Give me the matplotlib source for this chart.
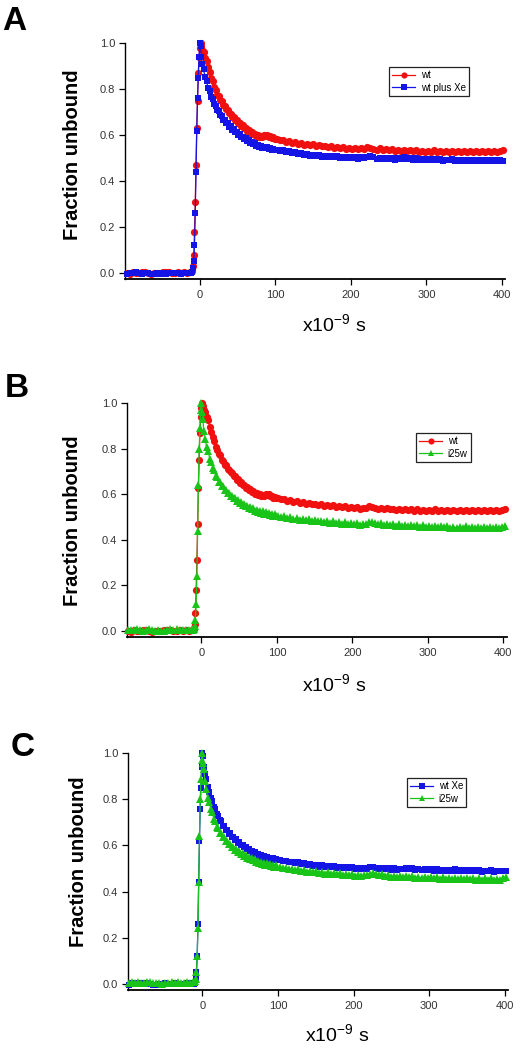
import numpy as np
import matplotlib
matplotlib.use("Agg")
import matplotlib.pyplot as plt

plt.rcParams["font.family"] = ["Liberation Sans", "DejaVu Sans"]

# sampling times (x10^-9 s): baseline, rise, early decay, late decay
T = np.concatenate([
    np.arange(-97, -12, 4),
    np.arange(-11, 4, 1),
    np.arange(5, 100, 2),
    np.arange(102, 403, 4),
])

WT = (
    [0.002, -0.003, 0.004, 0.001, -0.002, 0.003, 0.005, 0.001, -0.004, -0.002, 0.002,
     0.000, 0.004, 0.006, 0.003, -0.001, 0.002, 0.004, 0.001, 0.005, 0.002, 0.003]
    + [0.003, 0.01, 0.03, 0.08, 0.18, 0.31, 0.47, 0.63, 0.75, 0.87, 0.94, 0.98, 1.00, 0.99, 0.97]
    + [0.962, 0.938, 0.925, 0.897, 0.874, 0.851, 0.836, 0.808, 0.797, 0.776,
       0.772, 0.752, 0.748, 0.731, 0.728, 0.712, 0.709, 0.697, 0.694, 0.681,
       0.679, 0.664, 0.667, 0.651, 0.654, 0.641, 0.643, 0.630, 0.631, 0.619,
       0.622, 0.609, 0.614, 0.603, 0.607, 0.598, 0.601, 0.593, 0.598, 0.594,
       0.602, 0.596, 0.600, 0.591, 0.595, 0.586, 0.590, 0.584]
    + [0.585, 0.578, 0.581, 0.572, 0.574, 0.567, 0.570, 0.562, 0.565, 0.559,
       0.562, 0.556, 0.560, 0.553, 0.557, 0.551, 0.555, 0.548, 0.552, 0.546,
       0.549, 0.543, 0.547, 0.541, 0.545, 0.539, 0.543, 0.538, 0.542, 0.540,
       0.547, 0.545, 0.541, 0.537, 0.542, 0.535, 0.539, 0.534, 0.538, 0.532,
       0.537, 0.531, 0.536, 0.530, 0.535, 0.529, 0.534, 0.528, 0.533, 0.527,
       0.532, 0.528, 0.534, 0.527, 0.531, 0.526, 0.532, 0.528, 0.533, 0.526,
       0.531, 0.527, 0.533, 0.526, 0.530, 0.527, 0.532, 0.525, 0.531, 0.528,
       0.533, 0.526, 0.530, 0.527, 0.532, 0.534]
)

WT_XE = (
    [-0.004, 0.002, -0.002, 0.003, 0.001, -0.003, 0.002, 0.000, -0.005, -0.006, -0.002,
     -0.004, 0.001, -0.003, -0.001, 0.002, -0.002, 0.000, -0.003, 0.001, -0.001, 0.002]
    + [0.000, 0.005, 0.02, 0.05, 0.12, 0.26, 0.44, 0.62, 0.76, 0.85, 0.94, 1.00, 0.99, 0.94, 0.91]
    + [0.887, 0.852, 0.834, 0.805, 0.793, 0.768, 0.758, 0.737, 0.729, 0.709,
       0.704, 0.686, 0.683, 0.666, 0.665, 0.651, 0.652, 0.637, 0.638, 0.624,
       0.626, 0.612, 0.614, 0.601, 0.604, 0.592, 0.594, 0.583, 0.586, 0.575,
       0.578, 0.566, 0.571, 0.561, 0.565, 0.555, 0.559, 0.549, 0.554, 0.545,
       0.550, 0.542, 0.547, 0.540, 0.544, 0.537, 0.541, 0.535]
    + [0.536, 0.532, 0.534, 0.528, 0.530, 0.524, 0.527, 0.519, 0.522, 0.515,
       0.518, 0.511, 0.515, 0.508, 0.513, 0.507, 0.511, 0.505, 0.510, 0.503,
       0.508, 0.502, 0.507, 0.500, 0.505, 0.499, 0.504, 0.498, 0.503, 0.499,
       0.506, 0.508, 0.503, 0.498, 0.502, 0.496, 0.501, 0.495, 0.500, 0.494,
       0.499, 0.496, 0.503, 0.497, 0.501, 0.494, 0.499, 0.493, 0.498, 0.492,
       0.497, 0.491, 0.496, 0.490, 0.495, 0.489, 0.494, 0.490, 0.496, 0.489,
       0.494, 0.488, 0.493, 0.487, 0.492, 0.488, 0.493, 0.486, 0.491, 0.487,
       0.492, 0.486, 0.490, 0.487, 0.491, 0.489]
)

I25W = (
    [0.004, 0.006, 0.003, 0.007, 0.005, 0.002, 0.006, 0.008, 0.004, 0.001, 0.003,
     -0.002, 0.002, 0.005, 0.007, 0.004, 0.008, 0.005, 0.003, 0.006, 0.004, 0.007]
    + [0.006, 0.01, 0.02, 0.05, 0.12, 0.24, 0.44, 0.64, 0.80, 0.89, 0.97, 1.00, 0.96, 0.93, 0.88]
    + [0.843, 0.806, 0.789, 0.757, 0.744, 0.716, 0.705, 0.681, 0.676, 0.656,
       0.654, 0.636, 0.636, 0.620, 0.621, 0.606, 0.607, 0.593, 0.595, 0.582,
       0.584, 0.572, 0.575, 0.563, 0.567, 0.555, 0.559, 0.547, 0.551, 0.541,
       0.545, 0.535, 0.539, 0.527, 0.532, 0.524, 0.529, 0.520, 0.525, 0.516,
       0.522, 0.513, 0.519, 0.510, 0.516, 0.507, 0.513, 0.505]
    + [0.506, 0.501, 0.503, 0.496, 0.499, 0.492, 0.496, 0.489, 0.493, 0.486,
       0.490, 0.483, 0.487, 0.481, 0.485, 0.478, 0.483, 0.476, 0.481, 0.474,
       0.479, 0.472, 0.477, 0.470, 0.475, 0.468, 0.473, 0.467, 0.472, 0.470,
       0.477, 0.479, 0.475, 0.470, 0.474, 0.466, 0.471, 0.464, 0.469, 0.463,
       0.468, 0.462, 0.467, 0.461, 0.466, 0.460, 0.465, 0.459, 0.464, 0.458,
       0.463, 0.457, 0.462, 0.456, 0.461, 0.455, 0.460, 0.454, 0.459, 0.453,
       0.458, 0.454, 0.460, 0.453, 0.458, 0.452, 0.457, 0.451, 0.457, 0.452,
       0.458, 0.451, 0.456, 0.452, 0.458, 0.462]
)

STYLES = {
    "wt": {"color": "#f01010", "marker": "o", "markersize": 5.2},
    "xe": {"color": "#1414e6", "marker": "s", "markersize": 4.8},
    "i25w": {"color": "#18c418", "marker": "^", "markersize": 5.6},
}

# panels: letter, (left, top, right, bottom) in px, series, legend corner, label spots
PANELS = [
    ("A", (125, 43.3, 505.3, 279.3), [(WT, "wt", "wt"), (WT_XE, "xe", "wt plus Xe")],
     (389, 67), (14, 22), (72.5, 155), (334, 325)),
    ("B", (126.7, 403.3, 506.7, 637.3), [(WT, "wt", "wt"), (I25W, "i25w", "i25w")],
     (416, 433), (17, 388), (72.5, 521), (334, 685)),
    ("C", (127.7, 753.3, 508, 990), [(WT_XE, "xe", "wt Xe"), (I25W, "i25w", "i25w")],
     (407, 778), (23, 747), (78.5, 862), (337, 1035)),
]

W, H = 526, 1050
fig = plt.figure(figsize=(W / 100, H / 100), dpi=100)

for letter, (l, t, r, b), series, leg_xy, let_xy, ylab_xy, xlab_xy in PANELS:
    ax = fig.add_axes([l / W, 1 - b / H, (r - l) / W, (b - t) / H])
    for z, (vals, key, label) in enumerate(series):
        st = STYLES[key]
        ax.plot(T, np.array(vals), color=st["color"], marker=st["marker"],
                markersize=st["markersize"], markeredgewidth=0, linewidth=0.9,
                label=label, clip_on=False, zorder=3 + z)
    ax.set_xlim(-99, 404.5)
    ax.set_ylim(-0.0275, 1.0)
    ax.set_xticks([0, 100, 200, 300, 400])
    ax.set_yticks([0.0, 0.2, 0.4, 0.6, 0.8, 1.0])
    ax.set_yticklabels(["0.0", "0.2", "0.4", "0.6", "0.8", "1.0"])
    for s in ("top", "right"):
        ax.spines[s].set_visible(False)
    ax.spines["left"].set_linewidth(1.0)
    ax.spines["bottom"].set_linewidth(1.3)
    ax.tick_params(direction="out", length=4, width=0.9, labelsize=8,
                   labelcolor="#333333")
    ax.tick_params(axis="x", pad=4)
    ax.tick_params(axis="y", pad=3)

    leg = ax.legend(loc="upper left", bbox_to_anchor=(leg_xy[0] / W, 1 - leg_xy[1] / H),
                    bbox_transform=fig.transFigure, fontsize=7, frameon=True,
                    fancybox=False, framealpha=1, edgecolor="#222222",
                    handlelength=2.3, handletextpad=0.6, borderpad=0.35,
                    labelspacing=0.25, borderaxespad=0, numpoints=1, markerscale=0.85)
    leg.get_frame().set_linewidth(0.9)

    fig.text(let_xy[0] / W, 1 - let_xy[1] / H, letter, fontsize=24, fontweight="bold",
             ha="center", va="center")
    fig.text(ylab_xy[0] / W, 1 - ylab_xy[1] / H, "Fraction unbound", fontsize=14.5,
             fontweight="bold", rotation=90, ha="center", va="center")
    fig.text(xlab_xy[0] / W, 1 - xlab_xy[1] / H, r"x10$^{\mathregular{-9}}$ s",
             fontsize=14, ha="center", va="center")

fig.savefig("out.png", dpi=100)
